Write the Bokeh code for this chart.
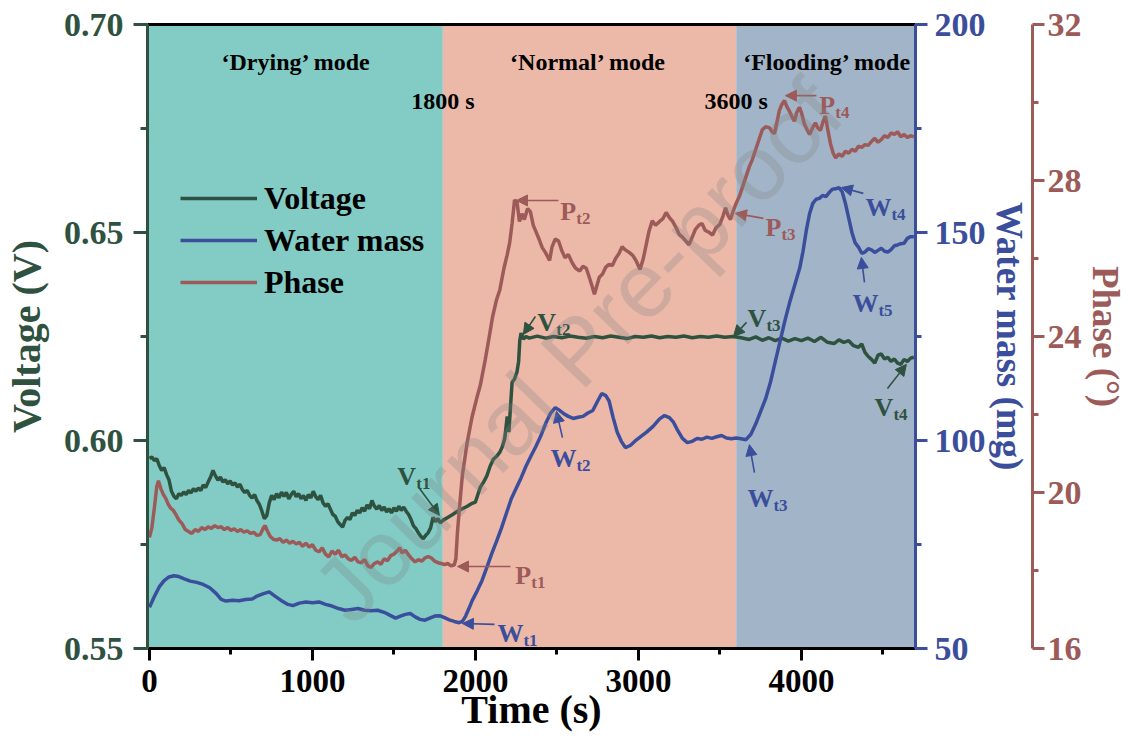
import math
from bokeh.plotting import figure
from bokeh.models import (LinearAxis, Range1d, FixedTicker, PrintfTickFormatter,
                          BoxAnnotation, Legend, LegendItem, Arrow, NormalHead, Label,
                          ColumnDataSource)
from bokeh.core.properties import value
from bokeh.embed import file_html
from bokeh.resources import INLINE

SERIF = "Liberation Serif"
GREEN = "#2f5240"
BLUE = "#3a4e9c"
RED = "#9c5a58"
TEAL = "#82ccc5"
SALMON = "#ecb9a9"
SLATE = "#a2b4c8"

# ---------------- data ----------------
time_v = [0, 15, 30, 45, 60, 75, 90, 105, 120, 135, 150, 165, 180, 195, 210, 225, 240, 255, 270, 285,
          300, 315, 330, 345, 360, 375, 390, 405, 420, 435, 450, 465, 480, 495, 510, 525, 540, 555, 570, 585,
          600, 615, 630, 645, 660, 675, 690, 705, 720, 735, 750, 765, 780, 795, 810, 825, 840, 855, 870, 885,
          900, 915, 930, 945, 960, 975, 990, 1005, 1020, 1035, 1050, 1065, 1080, 1095, 1110, 1125, 1140, 1155, 1170, 1185,
          1200, 1215, 1230, 1245, 1260, 1275, 1290, 1305, 1320, 1335, 1350, 1365, 1380, 1395, 1410, 1425, 1440, 1455, 1470, 1485,
          1500, 1515, 1530, 1545, 1560, 1575, 1590, 1605, 1620, 1635, 1650, 1665, 1680, 1695, 1710, 1725, 1740, 1755, 1770, 1785,
          1800, 1830, 1860, 1890, 1920, 1950, 1975, 2000, 2015, 2030, 2050, 2070, 2090, 2110, 2130, 2150, 2165, 2180, 2195, 2205,
          2215, 2225, 2240, 2255, 2265, 2272, 2280, 2295, 2310, 2330, 2380, 2430, 2480, 2530, 2580, 2630, 2680, 2730, 2780, 2830,
          2880, 2930, 2980, 3030, 3080, 3130, 3180, 3230, 3280, 3330, 3380, 3430, 3480, 3530, 3580, 3630, 3680, 3720, 3760, 3800,
          3840, 3880, 3920, 3960, 4000, 4040, 4080, 4120, 4160, 4200, 4230, 4260, 4290, 4320, 4350, 4370, 4390, 4410, 4430, 4450,
          4470, 4490, 4510, 4530, 4550, 4570, 4590, 4610, 4630, 4650, 4670, 4690]
voltage = [0.5957, 0.5960, 0.5952, 0.5956, 0.5940, 0.5928, 0.5935, 0.5918, 0.5905, 0.5878, 0.5866, 0.5860, 0.5872, 0.5868, 0.5876, 0.5870, 0.5880, 0.5874, 0.5884, 0.5878,
           0.5886, 0.5880, 0.5893, 0.5887, 0.5900, 0.5912, 0.5928, 0.5915, 0.5905, 0.5912, 0.5900, 0.5906, 0.5896, 0.5903, 0.5893, 0.5898, 0.5888, 0.5895, 0.5882, 0.5875,
           0.5880, 0.5868, 0.5862, 0.5870, 0.5855, 0.5846, 0.5830, 0.5812, 0.5820, 0.5850, 0.5868, 0.5858, 0.5872, 0.5862, 0.5876, 0.5866, 0.5875, 0.5860, 0.5870, 0.5878,
           0.5865, 0.5872, 0.5860, 0.5868, 0.5856, 0.5870, 0.5862, 0.5878, 0.5865, 0.5858, 0.5868, 0.5850, 0.5842, 0.5848, 0.5835, 0.5822, 0.5818, 0.5805, 0.5798, 0.5792,
           0.5808, 0.5815, 0.5810, 0.5826, 0.5820, 0.5832, 0.5826, 0.5838, 0.5830, 0.5845, 0.5836, 0.5856, 0.5842, 0.5835, 0.5844, 0.5832, 0.5840, 0.5828, 0.5836, 0.5826,
           0.5838, 0.5830, 0.5842, 0.5832, 0.5840, 0.5830, 0.5822, 0.5810, 0.5795, 0.5788, 0.5778, 0.5770, 0.5764, 0.5772, 0.5778, 0.5790, 0.5815, 0.5805, 0.5812, 0.5802,
           0.5808, 0.5815, 0.5822, 0.5830, 0.5836, 0.5842, 0.5848, 0.5852, 0.5870, 0.5888, 0.5900, 0.5915, 0.5938, 0.5955, 0.5962, 0.5972, 0.5985, 0.6005, 0.6058, 0.6020,
           0.6080, 0.6140, 0.6148, 0.6165, 0.6190, 0.6240, 0.6258, 0.6244, 0.6250, 0.6246, 0.6251, 0.6246, 0.6250, 0.6247, 0.6251, 0.6248, 0.6246, 0.6250, 0.6247, 0.6251,
           0.6248, 0.6245, 0.6250, 0.6248, 0.6251, 0.6247, 0.6250, 0.6248, 0.6251, 0.6247, 0.6250, 0.6248, 0.6251, 0.6248, 0.6250, 0.6247, 0.6243, 0.6249, 0.6241, 0.6247,
           0.6240, 0.6246, 0.6239, 0.6245, 0.6240, 0.6246, 0.6238, 0.6248, 0.6236, 0.6233, 0.6242, 0.6236, 0.6240, 0.6228, 0.6224, 0.6232, 0.6212, 0.6202, 0.6195, 0.6186,
           0.6205, 0.6208, 0.6196, 0.6200, 0.6190, 0.6196, 0.6186, 0.6183, 0.6195, 0.6190, 0.6198, 0.6200]

time_w = [0, 30, 60, 90, 120, 150, 180, 210, 250, 290, 330, 370, 410, 440, 470, 510, 550, 590, 630, 660,
          700, 735, 770, 810, 850, 880, 920, 960, 1000, 1040, 1080, 1120, 1160, 1200, 1240, 1280, 1320, 1360, 1400, 1440,
          1480, 1510, 1540, 1570, 1600, 1630, 1660, 1690, 1720, 1750, 1780, 1810, 1840, 1870, 1900, 1920, 1940, 1960, 1980, 2010,
          2040, 2070, 2100, 2130, 2160, 2190, 2220, 2250, 2280, 2310, 2340, 2370, 2400, 2430, 2460, 2490, 2510, 2540, 2570, 2600,
          2630, 2660, 2690, 2720, 2750, 2775, 2800, 2820, 2845, 2870, 2895, 2920, 2950, 2980, 3010, 3050, 3090, 3130, 3160, 3190,
          3215, 3240, 3270, 3300, 3330, 3360, 3390, 3420, 3450, 3480, 3510, 3540, 3570, 3600, 3630, 3660, 3690, 3720, 3750, 3780,
          3810, 3840, 3870, 3900, 3930, 3960, 3990, 4010, 4030, 4050, 4070, 4090, 4110, 4130, 4150, 4170, 4190, 4210, 4230, 4250,
          4270, 4290, 4310, 4330, 4350, 4370, 4390, 4410, 4430, 4450, 4470, 4490, 4510, 4530, 4550, 4570, 4590, 4610, 4630, 4650,
          4670, 4690]
water_mass = [59.9, 62.5, 64.8, 66.3, 67.2, 67.5, 67.3, 66.8, 66.2, 65.9, 65.4, 64.6, 63.2, 61.8, 61.4, 61.6, 61.5, 61.8, 61.9, 62.6,
              63.2, 63.6, 62.6, 61.5, 60.6, 60.3, 60.9, 61.2, 61.0, 61.2, 60.6, 60.2, 59.6, 59.2, 59.4, 59.6, 59.2, 59.1, 59.2, 58.7,
              57.9, 57.3, 57.8, 58.2, 58.4, 57.6, 57.0, 56.8, 57.3, 57.8, 57.9, 57.4, 56.9, 56.5, 56.2, 56.5, 57.8, 59.6, 61.5, 63.8,
              66.3, 69.5, 72.8, 75.8, 79.0, 82.5, 86.0, 88.5, 91.0, 93.8, 96.2, 98.5, 101.0, 104.0, 106.5, 107.9, 107.4, 106.5, 105.8, 105.3,
              105.6, 105.8, 106.6, 107.2, 109.5, 111.3, 110.8, 109.5, 105.5, 102.0, 99.8, 98.3, 98.8, 99.9, 100.8, 102.0, 103.4, 105.2, 106.0, 105.5,
              104.4, 102.5, 100.5, 99.5, 99.8, 100.5, 100.3, 100.8, 100.5, 100.9, 101.2, 100.6, 100.4, 100.6, 100.4, 100.2, 101.5, 104.0, 107.0, 110.0,
              114.0, 119.0, 124.0, 129.0, 133.5, 137.5, 141.5, 145.5, 150.5, 154.5, 157.0, 158.0, 158.2, 158.9, 158.6, 159.6, 160.4, 160.5, 160.8, 159.8,
              157.0, 153.5, 150.0, 147.5, 146.5, 145.0, 145.3, 146.1, 145.8, 145.2, 145.7, 146.2, 145.5, 145.3, 145.9, 146.8, 147.0, 147.3, 147.4, 148.6,
              149.0, 149.0]

time_p = [0, 15, 30, 45, 55, 70, 85, 100, 115, 130, 145, 160, 180, 200, 220, 240, 260, 280, 300, 320,
          340, 360, 380, 400, 420, 440, 460, 480, 500, 520, 540, 560, 580, 600, 620, 640, 660, 680, 700, 710,
          725, 740, 760, 780, 800, 820, 840, 860, 880, 900, 920, 940, 960, 980, 1000, 1020, 1040, 1060, 1080, 1100,
          1120, 1140, 1160, 1180, 1200, 1220, 1240, 1260, 1280, 1300, 1320, 1340, 1360, 1380, 1400, 1420, 1440, 1460, 1480, 1500,
          1520, 1535, 1550, 1570, 1590, 1610, 1630, 1650, 1670, 1690, 1710, 1730, 1750, 1770, 1790, 1810, 1830, 1850, 1870, 1880,
          1890, 1905, 1920, 1950, 1980, 2010, 2030, 2060, 2085, 2105, 2130, 2150, 2175, 2195, 2210, 2225, 2240, 2255, 2270, 2285,
          2300, 2320, 2337, 2355, 2370, 2390, 2410, 2430, 2455, 2470, 2490, 2510, 2530, 2550, 2570, 2595, 2615, 2640, 2660, 2680,
          2700, 2715, 2730, 2745, 2760, 2780, 2800, 2820, 2840, 2860, 2880, 2900, 2920, 2945, 2965, 2985, 3010, 3030, 3045, 3065,
          3085, 3105, 3130, 3150, 3170, 3190, 3210, 3230, 3250, 3270, 3290, 3310, 3330, 3350, 3370, 3390, 3410, 3430, 3455, 3475,
          3500, 3520, 3535, 3550, 3565, 3580, 3600, 3620, 3640, 3660, 3680, 3700, 3720, 3740, 3760, 3780, 3805, 3820, 3835, 3850,
          3865, 3880, 3896, 3910, 3926, 3940, 3957, 3972, 3988, 4003, 4018, 4035, 4050, 4068, 4086, 4100, 4117, 4132, 4147, 4162,
          4178, 4195, 4210, 4230, 4250, 4270, 4290, 4310, 4330, 4350, 4370, 4390, 4410, 4430, 4450, 4470, 4490, 4510, 4530, 4550,
          4570, 4590, 4610, 4630, 4650, 4670, 4690]
phase = [18.85, 19.1, 19.6, 20.15, 20.3, 20.1, 19.95, 19.85, 19.7, 19.6, 19.55, 19.45, 19.3, 19.2, 19.05, 19.0, 18.95, 19.05, 19.0, 19.1,
         19.05, 19.12, 19.08, 19.15, 19.1, 19.12, 19.05, 19.1, 19.03, 19.07, 19.0, 19.05, 18.98, 19.02, 18.95, 18.98, 18.9, 18.92, 19.1, 19.15,
         19.0, 18.88, 18.8, 18.78, 18.82, 18.72, 18.78, 18.7, 18.75, 18.68, 18.72, 18.62, 18.7, 18.6, 18.66, 18.52, 18.48, 18.58, 18.42, 18.35,
         18.5, 18.42, 18.52, 18.35, 18.4, 18.3, 18.26, 18.34, 18.22, 18.2, 18.28, 18.12, 18.08, 18.18, 18.22, 18.16, 18.3, 18.25, 18.38, 18.42,
         18.5, 18.58, 18.45, 18.52, 18.4, 18.3, 18.22, 18.28, 18.24, 18.32, 18.36, 18.32, 18.24, 18.2, 18.18, 18.15, 18.18, 18.12, 18.14, 18.3,
         19.0, 19.75, 20.45, 21.3, 21.95, 22.45, 22.75, 23.4, 24.0, 24.5, 24.95, 25.2, 25.75, 26.1, 26.4, 26.9, 27.5, 27.45, 26.95, 27.15,
         27.0, 27.28, 27.2, 26.85, 26.7, 26.5, 26.28, 26.15, 25.95, 26.3, 26.5, 26.45, 26.2, 26.02, 26.1, 25.88, 25.75, 25.68, 25.8, 25.75,
         25.5, 25.3, 25.08, 25.3, 25.52, 25.6, 25.78, 25.85, 25.82, 26.0, 26.12, 26.3, 26.22, 26.15, 26.08, 25.95, 25.72, 26.0, 26.3, 26.7,
         26.97, 26.85, 26.95, 27.02, 27.18, 27.05, 26.95, 26.8, 26.62, 26.55, 26.45, 26.35, 26.55, 26.75, 26.85, 26.9, 26.72, 26.68, 26.6, 26.78,
         26.88, 27.1, 27.3, 27.1, 27.0, 27.2, 27.42, 27.6, 27.85, 28.1, 28.35, 28.55, 28.8, 29.05, 29.3, 29.38, 29.35, 29.25, 29.2, 29.5,
         29.8, 29.95, 30.05, 29.9, 29.78, 29.65, 29.52, 29.75, 29.88, 29.7, 29.45, 29.3, 29.18, 29.35, 29.48, 29.35, 29.28, 29.5, 29.65, 29.3,
         28.95, 28.7, 28.58, 28.68, 28.62, 28.75, 28.7, 28.8, 28.75, 28.88, 28.85, 28.92, 28.9, 29.0, 29.08, 28.98, 29.05, 29.15, 29.1, 29.22,
         29.18, 29.25, 29.12, 29.18, 29.1, 29.15, 29.12]

x_major_ticks = [0, 1000, 2000, 3000, 4000]
x_minor_ticks = [500, 1500, 2500, 3500, 4500]
v_major_ticks = [0.55, 0.60, 0.65, 0.70]
v_minor_ticks = [0.575, 0.625, 0.675]
w_major_ticks = [50, 100, 150, 200]
w_minor_ticks = [75, 125, 175]
p_major_ticks = [16, 20, 24, 28, 32]
p_minor_ticks = [18, 22, 26, 30]

mode_bounds = [1800, 3600]
mode_names = ["\u2018Drying\u2019 mode", "\u2018Normal\u2019 mode", "\u2018Flooding\u2019 mode"]
mode_name_x = [902, 2693, 4160]
boundary_names = ["1800 s", "3600 s"]

ann_main = ["V", "V", "V", "V", "W", "W", "W", "W", "W", "P", "P", "P", "P"]
ann_sub = ["t1", "t2", "t3", "t4", "t1", "t2", "t3", "t4", "t5", "t1", "t2", "t3", "t4"]
ann_x = [1521, 2380, 3669, 4448, 2135, 2460, 3669, 4393, 4313, 2245, 2521, 3779, 4110]
ann_y = [0.5914, 0.6284, 0.6293, 0.6079, 0.5536, 0.5957, 0.5861, 0.6560, 0.6329, 0.5676, 0.6551, 0.6512, 0.6805]
arr_x0 = [1656, 2368, 3663, 4528, 2117, 2534, 3712, 4380, 4387, 2215, 2509, 3767, 4092]
arr_y0 = [0.5885, 0.6298, 0.6284, 0.6125, 0.5558, 0.6007, 0.5923, 0.6594, 0.6380, 0.5697, 0.6577, 0.6534, 0.6829]
arr_x1 = [1779, 2294, 3583, 4644, 1920, 2497, 3681, 4245, 4368, 1890, 2252, 3595, 3902]
arr_y1 = [0.5820, 0.6255, 0.6250, 0.6183, 0.5560, 0.6070, 0.5990, 0.6608, 0.6440, 0.5697, 0.6577, 0.6546, 0.6829]

# ---------------- figure ----------------
p = figure(width=1128, height=744, x_range=Range1d(-12, 4700), y_range=Range1d(0.55, 0.70),
           output_backend="svg", toolbar_location=None,
           min_border_left=145, min_border_right=213, min_border_top=24, min_border_bottom=96)
p.extra_y_ranges = {"water": Range1d(50, 200), "phase": Range1d(16, 32)}
p.grid.visible = False
p.outline_line_color = None
p.background_fill_color = "white"
p.border_fill_color = "white"

# mode backgrounds
p.add_layout(BoxAnnotation(right=mode_bounds[0], fill_color=TEAL, fill_alpha=1.0, line_color=None, level="underlay"))
p.add_layout(BoxAnnotation(left=mode_bounds[0], right=mode_bounds[1], fill_color=SALMON, fill_alpha=1.0, line_color=None, level="underlay"))
p.add_layout(BoxAnnotation(left=mode_bounds[1], fill_color=SLATE, fill_alpha=1.0, line_color=None, level="underlay"))


def style_axis(ax, color, tick_out, label_standoff, title_standoff, label_size="34px", title_size="40px"):
    ax.axis_line_color = color
    ax.axis_line_width = 3
    ax.major_tick_line_color = color
    ax.minor_tick_line_color = color
    ax.major_tick_line_width = 3
    ax.minor_tick_line_width = 3
    ax.major_tick_out = tick_out
    ax.major_tick_in = 0
    ax.minor_tick_out = tick_out // 2
    ax.minor_tick_in = 0
    ax.major_label_text_color = color
    ax.major_label_text_font = SERIF
    ax.major_label_text_font_style = "bold"
    ax.major_label_text_font_size = label_size
    ax.major_label_standoff = label_standoff
    ax.axis_label_text_color = color
    ax.axis_label_text_font = SERIF
    ax.axis_label_text_font_style = "bold"
    ax.axis_label_text_font_size = title_size
    ax.axis_label_standoff = title_standoff


xa = p.xaxis[0]
xa.ticker = FixedTicker(ticks=x_major_ticks, minor_ticks=x_minor_ticks)
xa.axis_label = "Time (s)"
style_axis(xa, "black", 12, 9, -8, "33px", "40px")

ya = p.yaxis[0]
ya.ticker = FixedTicker(ticks=v_major_ticks, minor_ticks=v_minor_ticks)
ya.formatter = PrintfTickFormatter(format="%.2f")
ya.axis_label = "Voltage (V)"
style_axis(ya, GREEN, 14, 10, 12)

wa = LinearAxis(y_range_name="water", ticker=FixedTicker(ticks=w_major_ticks, minor_ticks=w_minor_ticks),
                axis_label="Water mass (mg)")
style_axis(wa, BLUE, 12, 7, 0, "34px", "37px")
pa = LinearAxis(y_range_name="phase", ticker=FixedTicker(ticks=p_major_ticks, minor_ticks=p_minor_ticks),
                axis_label="Phase (\u00b0)")
style_axis(pa, RED, 12, 3, 0, "34px", "37px")
p.add_layout(wa, "right")
p.add_layout(pa, "right")

top = LinearAxis(ticker=FixedTicker(ticks=[]), axis_line_color="black", axis_line_width=3,
                 major_tick_line_color=None, minor_tick_line_color=None,
                 major_label_text_font_size="0px")
p.add_layout(top, "above")

# lines
rv = p.line(time_v, voltage, line_color=GREEN, line_width=3.5)
rw = p.line(time_w, water_mass, line_color=BLUE, line_width=3.5, y_range_name="water")
rp = p.line(time_p, phase, line_color=RED, line_width=3.5, y_range_name="phase")

legend = Legend(items=[LegendItem(label="Voltage", renderers=[rv]),
                       LegendItem(label="Water mass", renderers=[rw]),
                       LegendItem(label="Phase", renderers=[rp])],
                location=(33, 345), orientation="vertical",
                glyph_width=77, glyph_height=42, label_height=42, label_standoff=7,
                spacing=0, padding=0, margin=0, border_line_color=None,
                background_fill_alpha=0,
                label_text_font=SERIF, label_text_font_style="bold", label_text_font_size="32px",
                label_text_color="black")
p.add_layout(legend)

# mode labels
p.text(x=mode_name_x, y=[0.6909] * 3, text=mode_names, text_font=value(SERIF), text_font_style="bold",
       text_font_size="24px", text_align="center", text_baseline="middle", text_color="black")
p.text(x=mode_bounds, y=[0.6817] * 2, text=boundary_names, text_font=value(SERIF), text_font_style="bold",
       text_font_size="24px", text_align="center", text_baseline="middle", text_color="black")

# point annotations
col = {"V": GREEN, "W": BLUE, "P": RED}
wid = {"V": 19, "W": 26, "P": 16}
ann_src = ColumnDataSource(dict(x=ann_x, y=ann_y, main=ann_main, sub=ann_sub,
                                color=[col[m] for m in ann_main],
                                dx=[wid[m] for m in ann_main]))
p.text(x="x", y="y", text="main", source=ann_src, text_font=value(SERIF), text_font_style="bold",
       text_font_size="26px", text_color="color", text_align="left", text_baseline="alphabetic")
p.text(x="x", y="y", text="sub", source=ann_src, x_offset="dx", y_offset=7, text_font=value(SERIF),
       text_font_style="bold", text_font_size="17px", text_color="color", text_align="left",
       text_baseline="alphabetic")
for i, m in enumerate(ann_main):
    c = col[m]
    p.add_layout(Arrow(x_start=arr_x0[i], y_start=arr_y0[i], x_end=arr_x1[i], y_end=arr_y1[i],
                       line_color=c, line_width=1.6,
                       end=NormalHead(size=11, fill_color=c, line_color=c)))

# watermark
p.add_layout(Label(x=2626, y=0.6216, text="Journal Pre-proof", angle=0.80,
                   text_font="Liberation Sans", text_font_size="92px", text_color="#808080",
                   text_alpha=0.28, text_align="center", text_baseline="middle"))

open("out.html", "w").write(file_html(p, INLINE))
